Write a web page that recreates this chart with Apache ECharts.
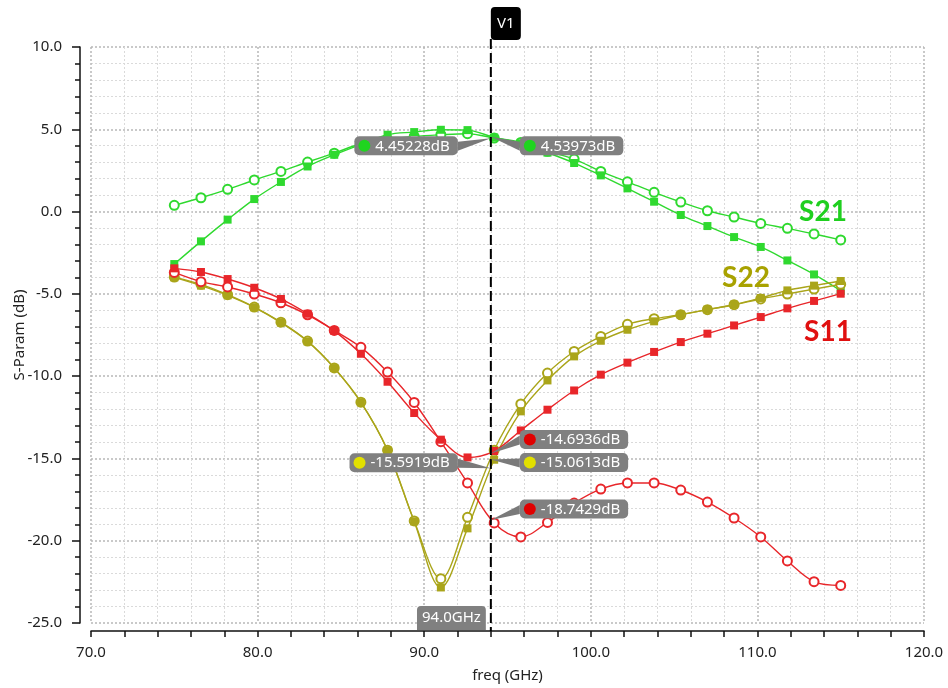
<!DOCTYPE html>
<html><head><meta charset="utf-8">
<script src="https://cdn.jsdelivr.net/npm/echarts/dist/echarts.min.js"></script>
<style>html,body{margin:0;padding:0;background:#fff}#main{width:948px;height:688px}</style>
</head><body><div id="main"></div>
<script>
// ---- data ----
const freq = [75.0, 76.6, 78.2, 79.8, 81.4, 83.0, 84.6, 86.2, 87.8, 89.4, 91.0, 92.6, 94.2, 95.8, 97.4, 99.0, 100.6, 102.2, 103.8, 105.4, 107.0, 108.6, 110.2, 111.8, 113.4, 115.0];
const s21Circle = [0.38, 0.84, 1.35, 1.92, 2.44, 3.01, 3.55, 4.12, 4.38, 4.57, 4.67, 4.73, 4.47, 4.20, 3.66, 3.19, 2.44, 1.81, 1.17, 0.58, 0.05, -0.33, -0.72, -1.02, -1.36, -1.72];
const s21Square = [-3.19, -1.81, -0.49, 0.76, 1.80, 2.74, 3.45, 4.08, 4.67, 4.83, 4.97, 4.95, 4.50, 4.15, 3.58, 2.95, 2.20, 1.41, 0.60, -0.21, -0.88, -1.55, -2.15, -2.97, -3.82, -4.81];
const s11Circle = [-3.70, -4.26, -4.58, -5.01, -5.54, -6.27, -7.22, -8.25, -9.75, -11.60, -13.98, -16.49, -18.92, -19.77, -18.89, -17.71, -16.86, -16.49, -16.49, -16.92, -17.65, -18.62, -19.77, -21.23, -22.49, -22.72];
const s11Square = [-3.45, -3.67, -4.10, -4.63, -5.31, -6.21, -7.25, -8.64, -10.34, -12.24, -13.86, -14.94, -14.55, -13.30, -12.04, -10.87, -9.91, -9.18, -8.53, -7.93, -7.42, -6.92, -6.41, -5.88, -5.43, -4.99];
const s22Circle = [-3.98, -4.42, -5.05, -5.80, -6.72, -7.87, -9.50, -11.58, -14.50, -18.80, -22.31, -18.58, -14.50, -11.69, -9.81, -8.50, -7.59, -6.85, -6.51, -6.27, -5.96, -5.66, -5.31, -5.01, -4.71, -4.42];
const s22Square = [-4.00, -4.50, -5.09, -5.82, -6.75, -7.89, -9.51, -11.60, -14.51, -18.83, -22.84, -19.25, -15.08, -12.14, -10.26, -8.80, -7.85, -7.18, -6.67, -6.27, -5.96, -5.66, -5.25, -4.79, -4.50, -4.22];
const xTicks = [70, 80, 90, 100, 110, 120];
const yTicks = [-25, -20, -15, -10, -5, 0, 5, 10];
const markerName = 'V1';
const markerFreq = 94.0;
const markerValues = [4.45228, 4.53973, -14.6936, -15.5919, -15.0613, -18.7429];
const traceNames = ['S21', 'S22', 'S11'];

// ---- styles / layout ----
const GREEN = '#2fd92f', RED = '#e8262a', OLIVE = '#aaa51a';
const annotLayout = [
  {side: 'left', dy: 7.5, dot: '#1fd41f'},
  {side: 'right', dy: 9, dot: '#1fd41f'},
  {side: 'right', dy: -14, dot: '#e00000'},
  {side: 'left', dy: -5.5, dot: '#e2e000'},
  {side: 'right', dy: 3, dot: '#e2e000'},
  {side: 'right', dy: -11, dot: '#e00000'}
];
const traceLabelLayout = [
  {x: 823, y: 212, color: '#1fcf1f'},
  {x: 746, y: 278, color: '#a8a200'},
  {x: 828, y: 332, color: '#e01010'}
];
const FONT = '"Noto Sans", "DejaVu Sans", sans-serif';

const chart = echarts.init(document.getElementById('main'));
function mk(name, vals, color, filled) {
  return {
    name, type: 'line', smooth: 0.35,
    data: freq.map((f, i) => [f, vals[i]]),
    symbol: filled ? 'rect' : 'emptyCircle',
    symbolSize: filled ? 8 : 9,
    lineStyle: {color, width: 1.4},
    itemStyle: filled ? {color} : {color, borderColor: color, borderWidth: 1.5},
    emphasis: {disabled: true},
    animation: false
  };
}
const majorLine = {show: true, lineStyle: {color: '#b8b8b8', type: [2, 2], width: 1.5}};
const minorLine = {show: true, lineStyle: {color: '#dadada', type: [2, 2], width: 1}};
chart.setOption({
  animation: false,
  grid: {left: 91, right: 24, top: 47, bottom: 65, containLabel: false, outerBoundsMode: 'none'},
  xAxis: {
    type: 'value', min: xTicks[0], max: xTicks[xTicks.length - 1], interval: xTicks[1] - xTicks[0],
    offset: 8, name: 'freq (GHz)', nameLocation: 'middle', nameGap: 37, nameMoveOverlap: false,
    nameTextStyle: {fontFamily: FONT, fontSize: 15, color: '#222'},
    axisLine: {onZero: false, lineStyle: {color: '#111', width: 1.5}},
    axisTick: {length: 6, lineStyle: {color: '#111', width: 1.5}},
    minorTick: {show: true, splitNumber: 5, length: 6, lineStyle: {color: '#111', width: 1.5}},
    axisLabel: {fontFamily: FONT, fontSize: 15, color: '#222', margin: 14, formatter: v => v.toFixed(1)},
    splitLine: majorLine, minorSplitLine: minorLine
  },
  yAxis: {
    type: 'value', min: yTicks[0], max: yTicks[yTicks.length - 1], interval: yTicks[1] - yTicks[0],
    offset: 11, name: 'S-Param (dB)', nameLocation: 'middle', nameGap: 53, nameMoveOverlap: false,
    nameTextStyle: {fontFamily: FONT, fontSize: 15, color: '#222'},
    axisLine: {show: true, onZero: false, lineStyle: {color: '#111', width: 1.5}},
    axisTick: {show: true, length: 8, lineStyle: {color: '#111', width: 1.5}},
    minorTick: {show: true, splitNumber: 5, length: 5, lineStyle: {color: '#111', width: 1.5}},
    axisLabel: {fontFamily: FONT, fontSize: 15, color: '#222', margin: 18, formatter: v => v.toFixed(1)},
    splitLine: majorLine, minorSplitLine: minorLine
  },
  series: [
    mk('S21 a', s21Circle, GREEN, false),
    mk('S21 b', s21Square, GREEN, true),
    mk('S22 a', s22Circle, OLIVE, false),
    mk('S22 b', s22Square, OLIVE, true),
    mk('S11 a', s11Circle, RED, false),
    mk('S11 b', s11Square, RED, true)
  ]
});

// ---- marker / annotations ----
const ctx = document.createElement('canvas').getContext('2d');
function textW(t, f) { ctx.font = f; return ctx.measureText(t).width; }
const px = (x, y) => chart.convertToPixel({gridIndex: 0}, [x, y]);
const lineX = px(markerFreq, 0)[0];
const topY = px(markerFreq, yTicks[yTicks.length - 1])[1];
const botY = px(markerFreq, yTicks[0])[1];
const g = [];
g.push({type: 'line', shape: {x1: lineX, y1: topY - 8, x2: lineX, y2: botY + 8},
  style: {stroke: '#000', lineWidth: 2, lineDash: [10, 4]}, z: 100});
g.push({type: 'rect', shape: {x: lineX, y: topY - 40, width: 30, height: 33, r: 4}, style: {fill: '#000'}, z: 101});
g.push({type: 'text', x: lineX + 15, y: topY - 23, style: {text: markerName, fill: '#fff', font: '15px ' + FONT, align: 'center', verticalAlign: 'middle'}, z: 102});
// freq label
const fText = markerFreq.toFixed(1) + 'GHz';
const fW = textW(fText, '15px ' + FONT) + 10;
g.push({type: 'rect', shape: {x: lineX - 5 - fW, y: botY - 17, width: fW, height: 24, r: [4, 4, 0, 0]}, style: {fill: '#808080'}, z: 101});
g.push({type: 'text', x: lineX - 5 - fW / 2, y: botY - 5, style: {text: fText, fill: '#fff', font: '15px ' + FONT, align: 'center', verticalAlign: 'middle'}, z: 102});
markerValues.forEach((v, i) => {
  const L = annotLayout[i];
  const p = px(markerFreq, v);
  const t = String(v) + 'dB';
  const tw = textW(t, '15px ' + FONT);
  const w = 21 + tw + 8, h = 19;
  const cy = p[1] + L.dy;
  const left = L.side === 'left' ? (p[0] - 33 - w) : (p[0] + 29);
  const edge = L.side === 'left' ? left + w : left;
  g.push({type: 'polygon', shape: {points: [[p[0], p[1]], [edge, cy - 4], [edge, cy + 5]]}, style: {fill: '#7a7a7a'}, z: 103});
  g.push({type: 'rect', shape: {x: left, y: cy - h / 2, width: w, height: h, r: 5}, style: {fill: '#808080'}, z: 103});
  g.push({type: 'circle', shape: {cx: left + 10, cy, r: 6}, style: {fill: L.dot}, z: 104});
  g.push({type: 'text', x: left + 21, y: cy + 0.5, style: {text: t, fill: '#fff', font: '15px ' + FONT, verticalAlign: 'middle'}, z: 104});
});
traceNames.forEach((n, i) => {
  const L = traceLabelLayout[i];
  g.push({type: 'text', x: L.x, y: L.y, style: {text: n, fill: L.color, font: 'bold 28px Lato, "Open Sans", sans-serif', align: 'center', verticalAlign: 'middle'}, z: 105});
});
chart.setOption({graphic: g});
</script></body></html>
